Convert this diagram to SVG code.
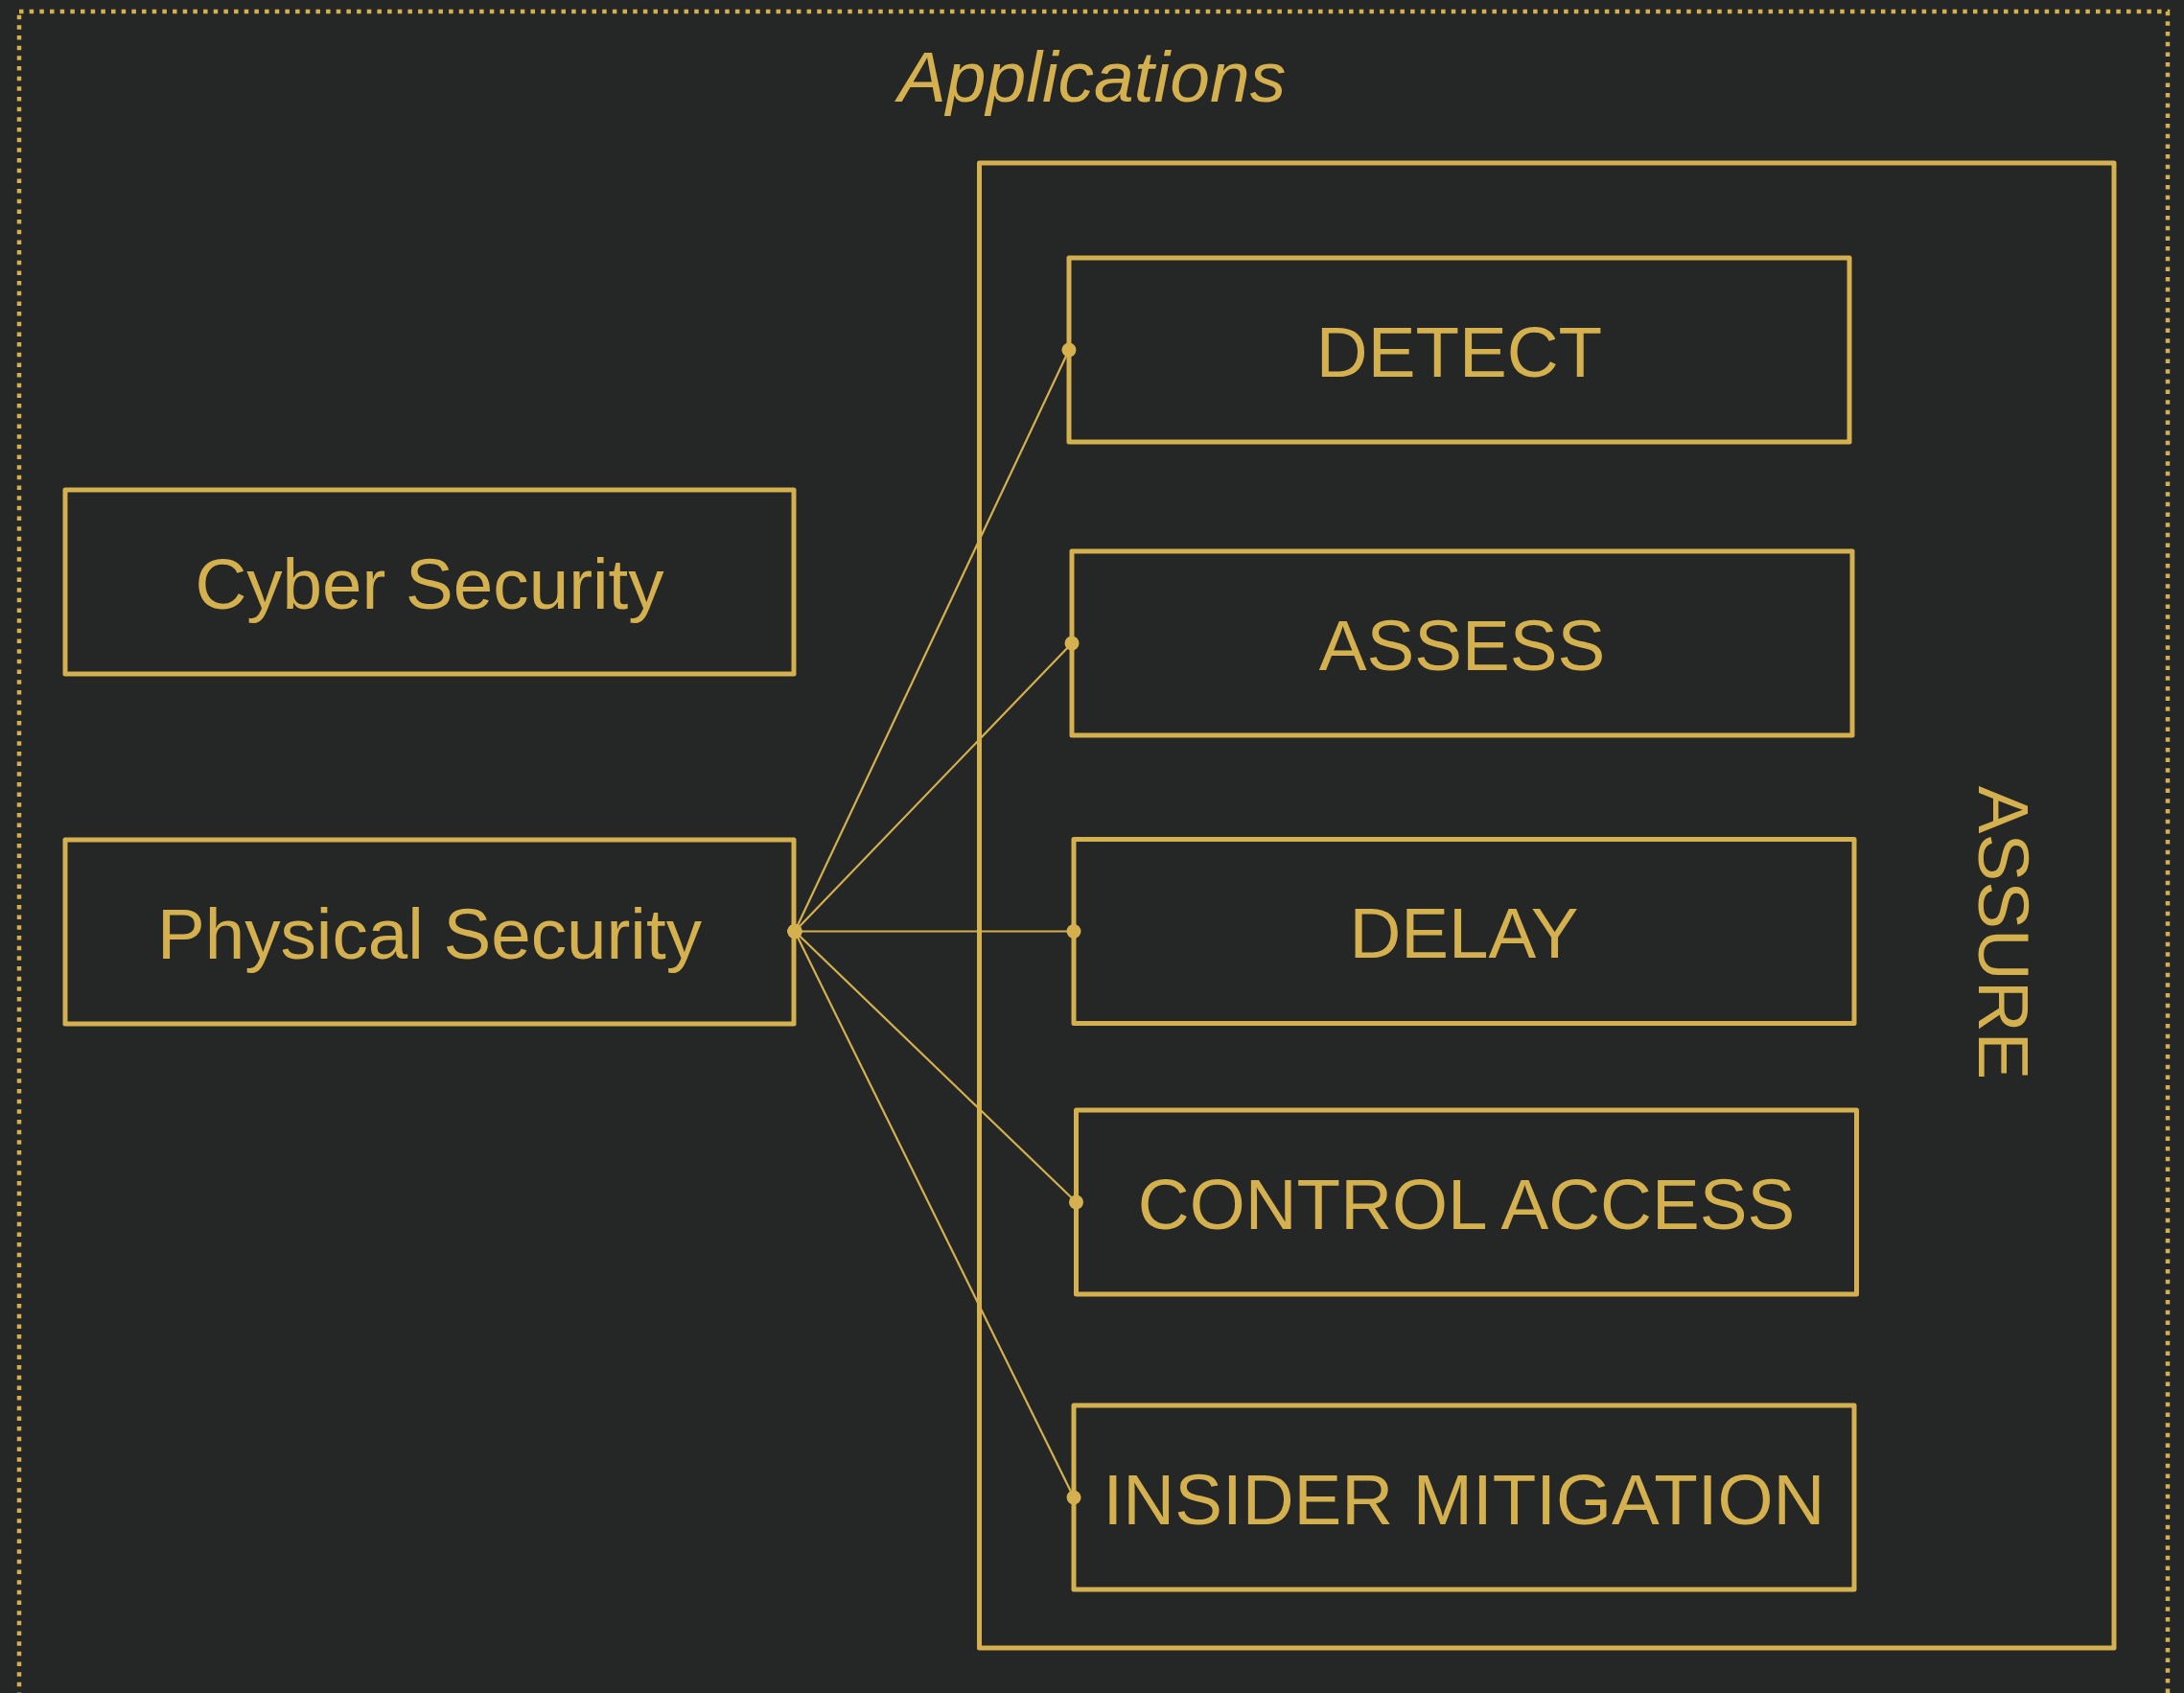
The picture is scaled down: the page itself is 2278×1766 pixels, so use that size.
<svg xmlns="http://www.w3.org/2000/svg" width="2278" height="1766" viewBox="0 0 2278 1766">
  <style>
    .bg { fill: #252726; }
    .frame { fill: none; stroke: #D4B04F; stroke-width: 4.5; stroke-dasharray: 4.5 6.17; }
    .box { fill: none; stroke: #D4B04F; stroke-width: 5; stroke-linejoin: round; }
    .conn { fill: none; stroke: #D4B04F; stroke-width: 2.2; }
    .lbl { font-family: "Liberation Sans", Arial, sans-serif; font-size: 74.6px; fill: #D4B04F; text-anchor: middle; }
    .title { font-style: italic; font-size: 75px; }
  </style>
  <defs>
    <marker id="dot" viewBox="-8 -8 16 16" markerWidth="16" markerHeight="16" markerUnits="userSpaceOnUse" refX="0" refY="0" orient="auto">
      <circle cx="0" cy="0" r="7.5" fill="#D4B04F"/>
    </marker>
  </defs>
  <rect class="bg" x="0" y="0" width="2278" height="1766"/>

  <g id="applications">
    <rect class="frame" x="20" y="12" width="2241" height="1775"/>
    <text class="lbl title" x="1139" y="106">Applications</text>
  </g>

  <g id="assure">
    <rect class="box" x="1021.5" y="170" width="1183.5" height="1549"/>
    <text class="lbl" transform="translate(2064 973) rotate(90)" x="0" y="0">ASSURE</text>
  </g>

  <g id="cyber-security">
    <rect class="box" x="68" y="511" width="760" height="192"/>
    <text class="lbl" x="448" y="634.5">Cyber Security</text>
  </g>

  <g id="physical-security">
    <rect class="box" x="68" y="876" width="760" height="192"/>
    <text class="lbl" x="448" y="999.5">Physical Security</text>
  </g>

  <g id="detect">
    <rect class="box" x="1115" y="269" width="814" height="192"/>
    <text class="lbl" x="1522" y="392.5">DETECT</text>
  </g>

  <g id="assess">
    <rect class="box" x="1118" y="575" width="814" height="192"/>
    <text class="lbl" x="1525" y="698.5">ASSESS</text>
  </g>

  <g id="delay">
    <rect class="box" x="1120" y="875.5" width="814" height="192"/>
    <text class="lbl" x="1527" y="998.5">DELAY</text>
  </g>

  <g id="control-access">
    <rect class="box" x="1122.5" y="1158" width="814" height="192"/>
    <text class="lbl" x="1529.5" y="1281.5">CONTROL ACCESS</text>
  </g>

  <g id="insider-mitigation">
    <rect class="box" x="1120" y="1466" width="814" height="192"/>
    <text class="lbl" x="1527" y="1589.5">INSIDER MITIGATION</text>
  </g>

  <g id="connectors">
    <line class="conn" x1="829" y1="971.5" x2="1115" y2="365" marker-start="url(#dot)" marker-end="url(#dot)"/>
    <line class="conn" x1="829" y1="971.5" x2="1118" y2="671" marker-start="url(#dot)" marker-end="url(#dot)"/>
    <line class="conn" x1="829" y1="971.5" x2="1120" y2="971.5" marker-start="url(#dot)" marker-end="url(#dot)"/>
    <line class="conn" x1="829" y1="971.5" x2="1122.5" y2="1254" marker-start="url(#dot)" marker-end="url(#dot)"/>
    <line class="conn" x1="829" y1="971.5" x2="1120" y2="1562" marker-start="url(#dot)" marker-end="url(#dot)"/>
  </g>
</svg>
